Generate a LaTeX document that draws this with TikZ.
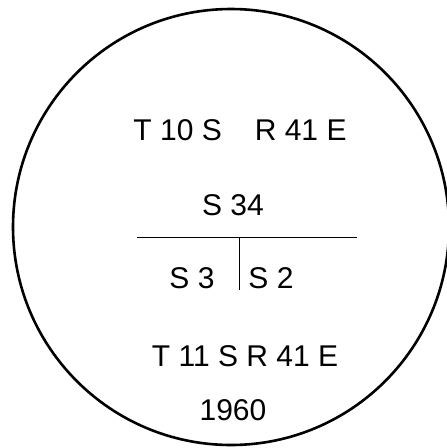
\documentclass[tikz,border=0pt]{standalone}
\usepackage{fontspec}
\setmainfont{Liberation Sans}
\usetikzlibrary{positioning}

\tikzset{
  stamp/.style={font=\fontsize{30}{32}\selectfont, inner sep=0pt, anchor=center},
  rule/.style={line width=0.8pt}
}

\begin{document}
\begin{tikzpicture}[x=1pt, y=-1pt]
  % Page frame
  \useasboundingbox (0,0) rectangle (447,448);
  \clip (0,0) rectangle (447,448);

  % Outer ring
  \draw[line width=2.6pt] (231,227) circle[radius=218];

  % Township lines
  \node[stamp] (top) at (240,130) {T 10 S\hspace{1.1em}R 41 E};
  \node[stamp] (sec) at (233,205) {S 34};

  % Section divide
  \coordinate (lineL) at (137,237);
  \coordinate (lineR) at (357,237);
  \coordinate (midT) at (239,237);
  \coordinate (midB) at (239,290);
  \draw[rule] (lineL) -- (lineR);
  \draw[rule] (midT) -- (midB);

  \node[stamp] (left) at (192,278) {S 3};
  \node[stamp] (right) at (271,278) {S 2};

  % Lower lines
  \node[stamp] (bot) at (245,356) {T 11 S R 41 E};
  \node[stamp] (year) at (233,410) {1960};
\end{tikzpicture}
\end{document}
